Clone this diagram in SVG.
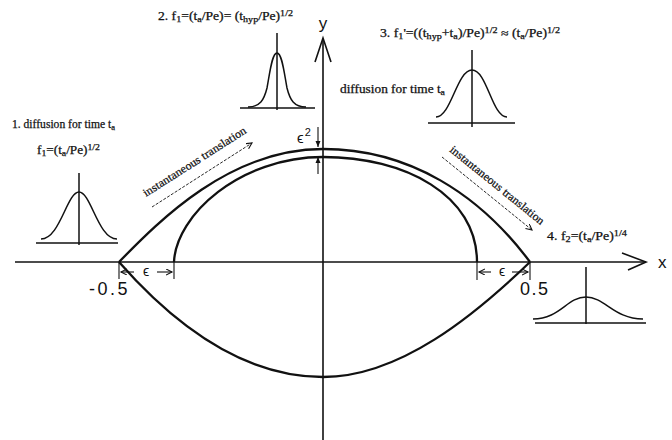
<svg xmlns="http://www.w3.org/2000/svg" width="672" height="440" viewBox="0 0 672 440">
<style>
.ax{fill:none;stroke:#111;stroke-width:1.6}
.cv{fill:none;stroke:#111;stroke-width:2.3}
.g{fill:none;stroke:#111;stroke-width:1.5}
.thin{fill:none;stroke:#111;stroke-width:1.1}
.dash{fill:none;stroke:#111;stroke-width:0.9;stroke-dasharray:3 1.5}
.t{font-family:"Liberation Serif","Times New Roman",serif;font-size:11.5px;fill:#111;stroke:#111;stroke-width:0.25}
.s{font-family:"Liberation Sans",Arial,sans-serif;fill:#111}
.sub{font-size:8.5px}
</style>
<defs>
<marker id="oa" markerUnits="userSpaceOnUse" markerWidth="8" markerHeight="8" refX="6" refY="3" orient="auto"><path d="M0,0 L6,3 L0,6" fill="none" stroke="#111" stroke-width="1.1"/></marker>
<marker id="fa" markerUnits="userSpaceOnUse" markerWidth="8" markerHeight="8" refX="6" refY="3" orient="auto"><path d="M0,0.5 L6,3 L0,5.5 Z" fill="#111"/></marker>
</defs>

<g id="axes">
<line class="ax" x1="15" y1="262" x2="646" y2="262"/>
<path class="ax" d="M622,253 L646,262 L628,270" stroke-width="2"/>
<text class="s" x="658" y="268" font-size="17">x</text>
<line class="ax" x1="323" y1="40" x2="323" y2="440"/>
<path class="ax" d="M315,62 L323,38 L331,62" stroke-width="2"/>
<text class="s" x="323" y="29" font-size="17" text-anchor="middle">y</text>
</g>

<g id="curves">
<path id="outer" class="cv" d="M119,262 C160,220 230,149 323,149 C410,149 480,195 530,262"/>
<path id="inner" class="cv" d="M174,262 C176,215 240,157 323,157 C405,157 477,195 477,262"/>
<path id="bottom" class="cv" d="M119,262 C170,320 240,377 323,377 C400,377 475,315 530,262"/>
</g>

<g id="dims">
<line class="thin" x1="119" y1="262" x2="119" y2="279"/>
<line class="thin" x1="174" y1="262" x2="174" y2="279"/>
<line class="thin" x1="134" y1="272" x2="121" y2="272" marker-end="url(#oa)"/>
<line class="thin" x1="157" y1="272" x2="172" y2="272" marker-end="url(#oa)"/>
<text class="s" x="146" y="276" font-size="14" text-anchor="middle" font-family="DejaVu Sans">ϵ</text>
<line class="thin" x1="477" y1="262" x2="477" y2="280"/>
<line class="thin" x1="530" y1="262" x2="530" y2="280"/>
<line class="thin" x1="491" y1="272" x2="479" y2="272" marker-end="url(#oa)"/>
<line class="thin" x1="512" y1="272" x2="528" y2="272" marker-end="url(#oa)"/>
<text class="s" x="502" y="276" font-size="14" text-anchor="middle" font-family="DejaVu Sans">ϵ</text>
<text class="s" x="89" y="295" font-size="18" letter-spacing="2.5">-0.5</text>
<text class="s" x="520" y="295" font-size="18" letter-spacing="1.5">0.5</text>
<line class="thin" x1="318" y1="127" x2="318" y2="147" marker-end="url(#fa)"/>
<line class="thin" x1="318" y1="174" x2="318" y2="157" marker-end="url(#fa)"/>
<text class="s" x="297" y="143" font-size="15" font-family="DejaVu Sans">ϵ<tspan dx="1" dy="-7" font-size="11">2</tspan></text>
</g>

<g id="translations">
<text class="t" font-size="11" stroke-width="0.1" transform="translate(146,197) rotate(-32.5)" textLength="120" lengthAdjust="spacingAndGlyphs">instantaneous translation</text>
<line class="dash" x1="152" y1="207" x2="252" y2="143" marker-end="url(#oa)"/>
<text class="t" font-size="11" stroke-width="0.1" transform="translate(449,151) rotate(39)" textLength="118" lengthAdjust="spacingAndGlyphs">instantaneous translation</text>
<line class="dash" x1="442" y1="157" x2="532" y2="230" marker-end="url(#oa)"/>
</g>

<g id="step1">
<text class="t" x="12" y="128" textLength="103" lengthAdjust="spacingAndGlyphs">1. diffusion for time t<tspan class="sub" dy="2">a</tspan></text>
<text class="t" x="37" y="154" textLength="63" lengthAdjust="spacingAndGlyphs">f<tspan class="sub" dy="2">1</tspan><tspan dy="-2">=(t</tspan><tspan class="sub" dy="2">a</tspan><tspan dy="-2">/Pe)</tspan><tspan class="sub" dy="-4">1/2</tspan></text>
<line class="g" x1="79" y1="173" x2="79" y2="245"/>
<line class="g" x1="36" y1="243" x2="118" y2="243"/>
<path class="g" d="M41,239 C60,239 67,192 79,192 C91,192 98,239 117,239"/>
</g>

<g id="step2">
<text class="t" x="158" y="20" textLength="135" lengthAdjust="spacingAndGlyphs">2.  f<tspan class="sub" dy="2">1</tspan><tspan dy="-2">=(t</tspan><tspan class="sub" dy="2">a</tspan><tspan dy="-2">/Pe)= (t</tspan><tspan class="sub" dy="2">hyp</tspan><tspan dy="-2">/Pe)</tspan><tspan class="sub" dy="-4">1/2</tspan></text>
<line class="g" x1="277" y1="33" x2="277" y2="110"/>
<line class="g" x1="240" y1="108" x2="315" y2="108"/>
<path class="g" d="M248,107 C260,107 264,100 267,88 C270,72 272,53 277,53 C282,53 284,72 287,88 C290,100 294,107 306,107"/>
</g>

<g id="step3">
<text class="t" x="380" y="37" font-size="12.5" textLength="180" lengthAdjust="spacingAndGlyphs">3.  f<tspan class="sub" dy="2">1</tspan><tspan dy="-2">'=((t</tspan><tspan class="sub" dy="2">hyp</tspan><tspan dy="-2">+t</tspan><tspan class="sub" dy="2">a</tspan><tspan dy="-2">)/Pe)</tspan><tspan class="sub" dy="-4">1/2</tspan><tspan dy="4"> ≈ (t</tspan><tspan class="sub" dy="2">a</tspan><tspan dy="-2">/Pe)</tspan><tspan class="sub" dy="-4">1/2</tspan></text>
<text class="t" x="340" y="93" font-size="12" textLength="105" lengthAdjust="spacingAndGlyphs">diffusion for time t<tspan class="sub" dy="2">a</tspan></text>
<line class="g" x1="472" y1="50" x2="472" y2="127"/>
<line class="g" x1="428" y1="123" x2="515" y2="123"/>
<path class="g" d="M436,117 C451,117 457,70 472,70 C487,70 492,117 507,117"/>
</g>

<g id="step4">
<text class="t" x="547" y="240" textLength="80" lengthAdjust="spacingAndGlyphs">4.  f<tspan class="sub" dy="2">2</tspan><tspan dy="-2">=(t</tspan><tspan class="sub" dy="2">a</tspan><tspan dy="-2">/Pe)</tspan><tspan class="sub" dy="-4">1/4</tspan></text>
<line class="g" x1="586" y1="267" x2="586" y2="324"/>
<line class="g" x1="535" y1="323" x2="646" y2="323"/>
<path class="g" d="M533,319 C560,319 567,297 586,297 C605,297 614,319 643,319"/>
</g>
</svg>
